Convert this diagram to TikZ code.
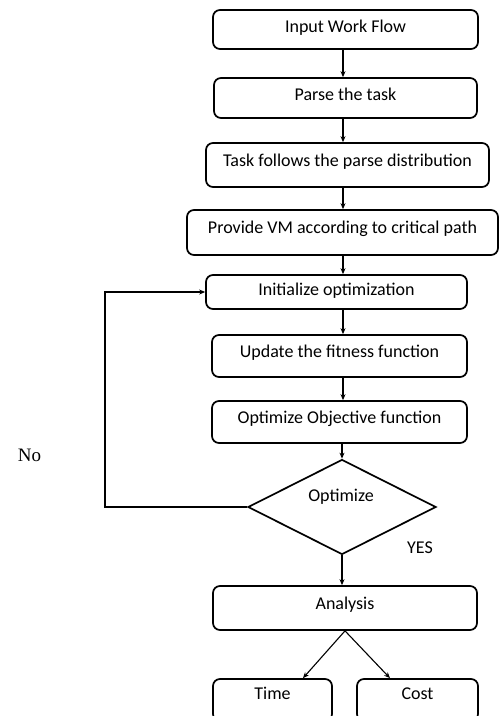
\documentclass[tikz,border=0pt]{standalone}
\usepackage{fontspec}
\setmainfont{Carlito}
\newfontfamily\noFont{Liberation Serif}
\usetikzlibrary{shapes.geometric,arrows.meta}

\begin{document}
\begin{tikzpicture}[
              x=1pt,y=1pt,
              every node/.style={font=\fontsize{18}{21}\selectfont},
              box/.style={draw, line width=1.7pt, rounded corners=7pt, inner sep=0pt,
                          text height=12pt, text depth=10pt},
              decide/.style={draw, line width=1.7pt, diamond, inner sep=0pt},
              flow/.style={-{Stealth[length=6pt,width=5pt]}, line width=1.1pt}
            ]
              \useasboundingbox (0,0) rectangle (503,-716);
              \clip (0,0) rectangle (503,-716);
              \coordinate (spine) at (343,0);
              \node[box, minimum width=265pt, minimum height=39pt, text depth=7pt] (input) at (345.5,-29.5) {Input Work Flow};
              \node[box, minimum width=263pt, minimum height=40pt, text depth=8pt] (parse) at (345.5,-98) {Parse the task};
              \node[box, minimum width=283pt, minimum height=44pt] (follow) at (347.5,-165) {Task follows the parse distribution};
              \node[box, minimum width=311pt, minimum height=45pt] (vm) at (342.5,-232.5) {Provide VM according to critical path};
              \node[box, minimum width=261pt, minimum height=34pt, text depth=5pt] (init) at (336.5,-292) {Initialize optimization};
              \node[box, minimum width=255pt, minimum height=42pt] (fit) at (339.5,-356) {Update the fitness function};
              \node[box, minimum width=255pt, minimum height=42pt] (obj) at (339.5,-422) {Optimize Objective function};
              \node[decide, minimum width=188pt, minimum height=95pt] (opt) at (342,-507) {};
              \node (optlbl) at (341,-497) {Optimize};
              \node[box, minimum width=264pt, minimum height=44pt] (ana) at (345,-608) {Analysis};
              \node[box, minimum width=119pt, minimum height=42pt, text depth=14pt] (time) at (272.5,-700) {Time};
              \node[box, minimum width=121pt, minimum height=42pt, text depth=14pt] (cost) at (417.5,-700) {Cost};
              \node (yes) at (420,-548) {YES};
              \node[font=\noFont\fontsize{19}{22}\selectfont] (no) at (29.5,-455) {No};
              \coordinate (back) at (105,0);

              % main line
              \draw[flow] (input.south -| spine) -- (parse.north -| spine);
              \draw[flow] (parse.south -| spine) -- (follow.north -| spine);
              \draw[flow] (follow.south -| spine) -- (vm.north -| spine);
              \draw[flow] (vm.south -| spine) -- (init.north -| spine);
              \draw[flow] (init.south -| spine) -- (fit.north -| spine);
              \draw[flow] (fit.south -| spine) -- (obj.north -| spine);
              \draw[flow] (obj.south -| opt.north) -- (opt.north);
              \draw[flow] (opt.south) -- (ana.north -| opt.south);
              % loop back
              \draw[flow] (opt.west) -- (opt.west -| back) |- (init.west);
              % results
              \draw[flow] (ana.south) -- ([xshift=30.5pt]time.north);
              \draw[flow] (ana.south) -- ([xshift=-27.5pt]cost.north);
            \end{tikzpicture}
\end{document}
